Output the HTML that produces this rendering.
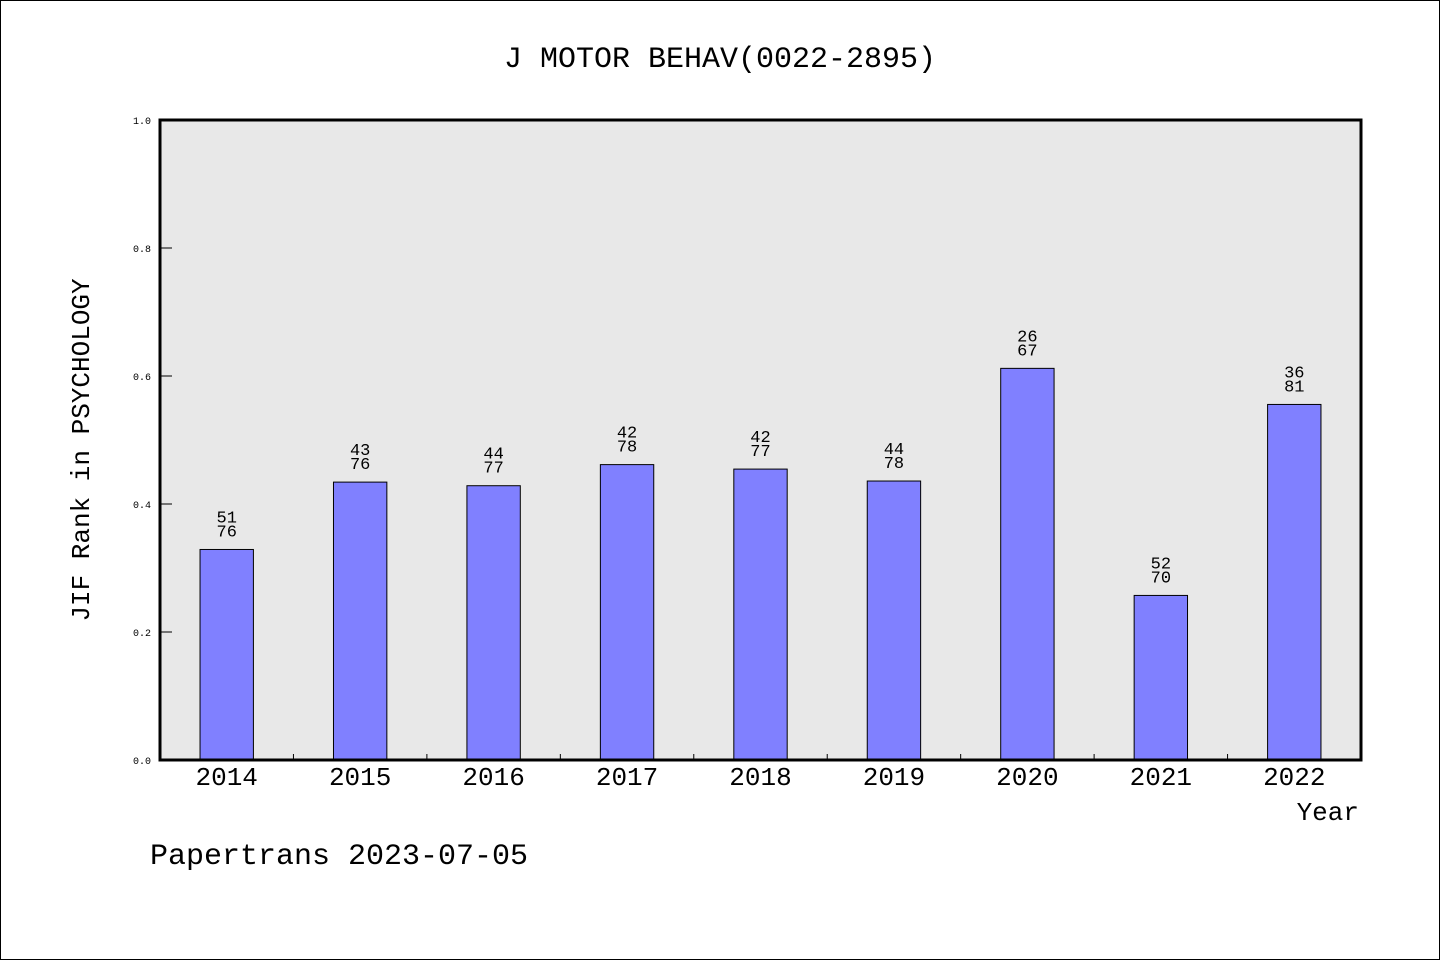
<!DOCTYPE html>
<html><head><meta charset="utf-8"><style>
html,body{margin:0;padding:0;background:#fff}
svg{display:block}
text{font-family:"WenQuanYi Zen Hei","Liberation Mono",monospace}
</style></head><body>
<svg id="chart" width="1440" height="960" xmlns="http://www.w3.org/2000/svg">
<rect x="0.5" y="0.5" width="1439" height="959" fill="#fff" stroke="#000"/>
<text x="720" y="67" font-size="30" text-anchor="middle">J MOTOR BEHAV(0022-2895)</text>
<rect x="160" y="120" width="1201" height="640" fill="#e8e8e8"/>
<g id="bars"></g>
<g id="ticks"></g>
<rect x="160" y="120" width="1201" height="640" fill="none" stroke="#000" stroke-width="3"/>
<text transform="translate(89,450) rotate(-90)" font-size="26" text-anchor="middle">JIF Rank in PSYCHOLOGY</text>
<text x="1359" y="820" font-size="26" text-anchor="end">Year</text>
<text x="150" y="864" font-size="30">Papertrans 2023-07-05</text>
</svg>
<script>
const years=['2014','2015','2016','2017','2018','2019','2020','2021','2022'];
const ranks=[51,43,44,42,42,44,26,52,36];
const totals=[76,76,77,78,77,78,67,70,81];
const yTicks=[0,0.2,0.4,0.6,0.8,1.0];
const NS='http://www.w3.org/2000/svg';
const L=160,R=1361,T=120,B=760;
const band=(R-L)/years.length;
const xc=i=>L+band*(i+0.5);
const y=v=>B-(v)*(B-T);
const bars=document.getElementById('bars'),ticks=document.getElementById('ticks');
function mk(tag,attrs,parent){const e=document.createElementNS(NS,tag);for(const k in attrs)e.setAttribute(k,attrs[k]);parent.appendChild(e);return e;}
years.forEach((yr,i)=>{
  const v=(totals[i]-ranks[i])/totals[i];
  const bw=band*0.4;
  const r=mk('rect',{x:xc(i)-bw/2,y:y(v),width:bw,height:B-y(v),fill:'#8080ff',stroke:'#000','stroke-width':1},bars);
  
  
  const t1=mk('text',{x:xc(i),y:y(v)-27,'font-size':17,'text-anchor':'middle'},bars);t1.textContent=ranks[i];
  
  
  const t2=mk('text',{x:xc(i),y:y(v)-13,'font-size':17,'text-anchor':'middle'},bars);t2.textContent=totals[i];
  
  
  const xl=mk('text',{x:xc(i),y:785,'font-size':26,'text-anchor':'middle'},ticks);xl.textContent=yr;
  
  
  if(i>0){const tk=mk('line',{x1:L+band*i,x2:L+band*i,y1:B,y2:B-6,stroke:'#000'},ticks);
  
  }
});
yTicks.forEach(v=>{
  const ln=mk('line',{x1:L,x2:L+12,y1:y(v),y2:y(v),stroke:'#000'},ticks);
  
  
  const t=mk('text',{x:151,y:y(v)+4,'font-size':10,'text-anchor':'end','font-family':'DejaVu Sans, sans-serif'},ticks);t.textContent=v.toFixed(1);
  
  
});
</script>
</body></html>
